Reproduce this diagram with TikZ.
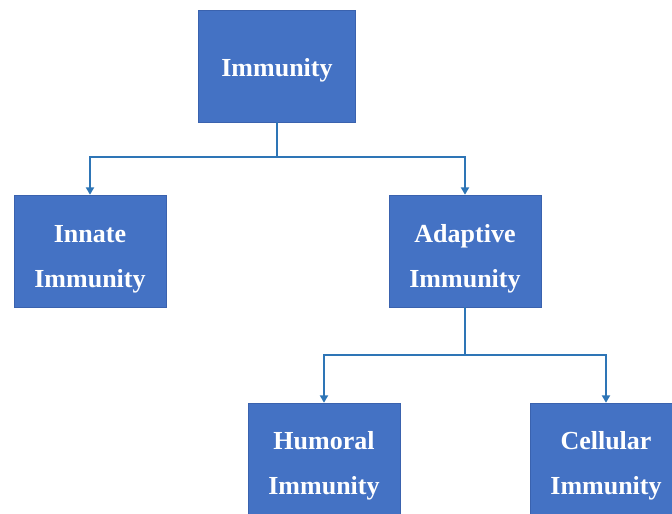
\documentclass[tikz,border=0pt]{standalone}
\usepackage{fontspec}
\setmainfont{Liberation Serif}
\usepackage{xcolor}
\usetikzlibrary{arrows.meta,positioning}
\definecolor{BoxBlue}{HTML}{4472C4}
\definecolor{BoxEdge}{HTML}{3A62AE}
\definecolor{LinkBlue}{HTML}{2E75B6}

\begin{document}
\begin{tikzpicture}[x=0.75pt,y=-0.75pt,
  box/.style={draw=BoxEdge,fill=BoxBlue,
    minimum width=114pt,minimum height=84pt,inner sep=0pt},
  lbl/.style={text=white,align=center,inner sep=0pt,
    font=\fontsize{19.5}{34}\selectfont\bfseries},
  stem/.style={draw=LinkBlue,line width=1.3pt},
  link/.style={stem,-{Triangle[width=6pt,length=5.5pt]}}]
  \useasboundingbox (0,0) rectangle (672,514);
  \clip (0,0) rectangle (672,514);
  \node[box,minimum width=117.75pt] (imm) at (277,66) {};
  \node[box] (inn) at (90,251) {};
  \node[box] (adp) at (465,251) {};
  \node[box] (hum) at (324,459) {};
  \node[box] (cel) at (606,459) {};
  \node[lbl] (imm-t) at ([yshift=-3pt]imm.center) {Immunity};
  \node[lbl] (inn-t) at ([yshift=-6pt]inn.center) {Innate\\Immunity};
  \node[lbl] (adp-t) at ([yshift=-6pt]adp.center) {Adaptive\\Immunity};
  \node[lbl] (hum-t) at ([yshift=-5pt]hum.center) {Humoral\\Immunity};
  \node[lbl] (cel-t) at ([yshift=-5pt]cel.center) {Cellular\\Immunity};
  % branches
  \coordinate (j1) at ([yshift=-26.25pt]imm.south);
  \coordinate (j2) at ([yshift=-36pt]adp.south);
  \draw[stem] (imm.south) -- (j1);
  \draw[stem] (adp.south) -- (j2);
  \draw[link] (j1) -| (inn.north);
  \draw[link] (j1) -| (adp.north);
  \draw[link] (j2) -| (hum.north);
  \draw[link] (j2) -| (cel.north);
\end{tikzpicture}
\end{document}
